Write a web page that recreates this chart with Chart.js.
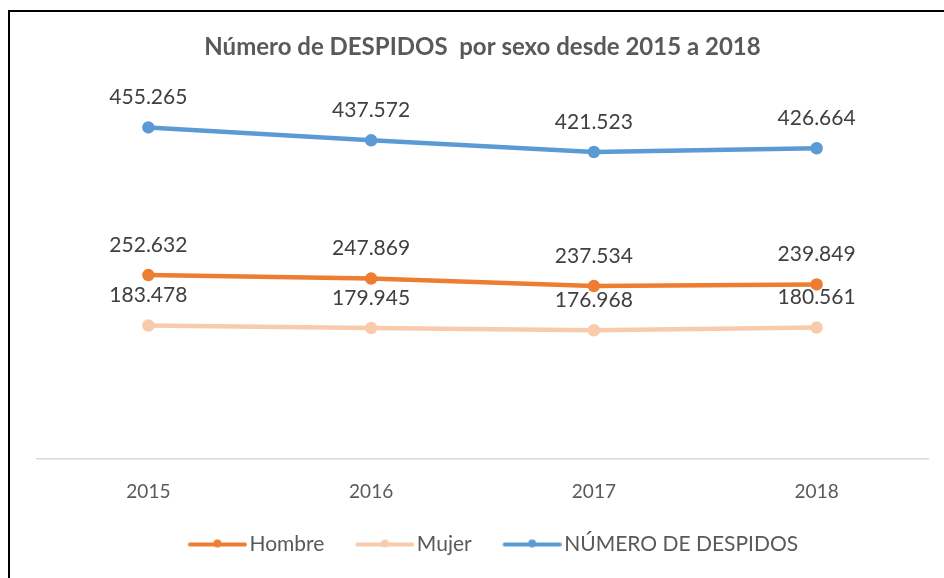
<!DOCTYPE html>
<html lang="es">
<head>
  <meta charset="UTF-8">
  <title>Número de DESPIDOS por sexo desde 2015 a 2018</title>
  <script src="https://cdn.jsdelivr.net/npm/chart.js"></script>
  <style>
    html, body { margin: 0; padding: 0; background: #fff; }
    #wrap { position: relative; width: 944px; height: 578px; }
    #frame { position: absolute; left: 8px; top: 10px; right: 0; bottom: 0;
             border-top: 2px solid #000; border-left: 2px solid #000; pointer-events: none; }
    canvas { position: absolute; left: 0; top: 0; }
  </style>
</head>
<body>
  <div id="wrap">
    <canvas id="despidosChart" width="944" height="578"></canvas>
    <div id="frame"></div>
  </div>

  <script>
    // data
    const years = ['2015', '2016', '2017', '2018'];
    const hombre = [252632, 247869, 237534, 239849];
    const mujer = [183478, 179945, 176968, 180561];
    const totalDespidos = [455265, 437572, 421523, 426664];

    const FONT = 'Lato, "Open Sans", sans-serif';

    // 455265 -> "455.265"
    function fmt(v) {
      return String(v).replace(/\B(?=(\d{3})+(?!\d))/g, '.');
    }

    // legend marker: line with a dot in the middle
    // (drawn off-centre so the line sits close to its text)
    function legendMarker(color) {
      const c = document.createElement('canvas');
      c.width = 88; c.height = 12;
      const g = c.getContext('2d');
      g.strokeStyle = color;
      g.lineWidth = 4;
      g.lineCap = 'round';
      g.beginPath();
      g.moveTo(31, 6); g.lineTo(86, 6);
      g.stroke();
      g.fillStyle = color;
      g.beginPath();
      g.arc(58.5, 5, 4, 0, Math.PI * 2);
      g.fill();
      return c;
    }

    const valueLabels = {
      id: 'valueLabels',
      afterDatasetsDraw(chart) {
        const ctx = chart.ctx;
        ctx.save();
        ctx.font = '21px ' + FONT;
        ctx.fillStyle = '#404040';
        ctx.textAlign = 'center';
        ctx.textBaseline = 'middle';
        chart.data.datasets.forEach((ds, i) => {
          chart.getDatasetMeta(i).data.forEach((pt, j) => {
            ctx.fillText(fmt(ds.data[j]), pt.x, pt.y - 30);
          });
        });
        ctx.restore();
      }
    };

    const colors = ['#ED7D31', '#F8CBAD', '#5B9BD5'];
    const markers = colors.map(legendMarker);

    function series(label, data, color) {
      return {
        label: label,
        data: data,
        borderColor: color,
        backgroundColor: color,
        borderWidth: 4.5,
        pointRadius: 4,
        pointHoverRadius: 4,
        tension: 0
      };
    }

    new Chart(document.getElementById('despidosChart'), {
      type: 'line',
      data: {
        labels: years,
        datasets: [
          series('Hombre', hombre, colors[0]),
          series('Mujer', mujer, colors[1]),
          series('NÚMERO DE DESPIDOS', totalDespidos, colors[2])
        ]
      },
      options: {
        responsive: false,
        animation: false,
        layout: { padding: { left: 37, right: 16, top: 0, bottom: 13 } },
        plugins: {
          title: {
            display: true,
            text: 'Número de DESPIDOS  por sexo desde 2015 a 2018',
            color: '#595959',
            font: { family: FONT, size: 24, weight: 'bold' },
            padding: { top: 33, bottom: 33 }
          },
          legend: {
            position: 'bottom',
            labels: {
              color: '#595959',
              font: { family: FONT, size: 21 },
              usePointStyle: true,
              pointStyleWidth: 72,
              padding: 10,
              generateLabels(chart) {
                const items = Chart.defaults.plugins.legend.labels.generateLabels(chart);
                items.forEach((it, i) => { it.pointStyle = markers[i]; });
                return items;
              }
            }
          },
          tooltip: { enabled: false }
        },
        scales: {
          x: {
            offset: true,
            grid: { display: false, drawTicks: false },
            border: { display: true, color: '#D9D9D9', width: 1.5 },
            ticks: { color: '#595959', font: { family: FONT, size: 19 }, padding: 21 }
          },
          y: {
            display: false,
            min: 0,
            max: 500000
          }
        }
      },
      plugins: [valueLabels]
    });
  </script>
</body>
</html>
